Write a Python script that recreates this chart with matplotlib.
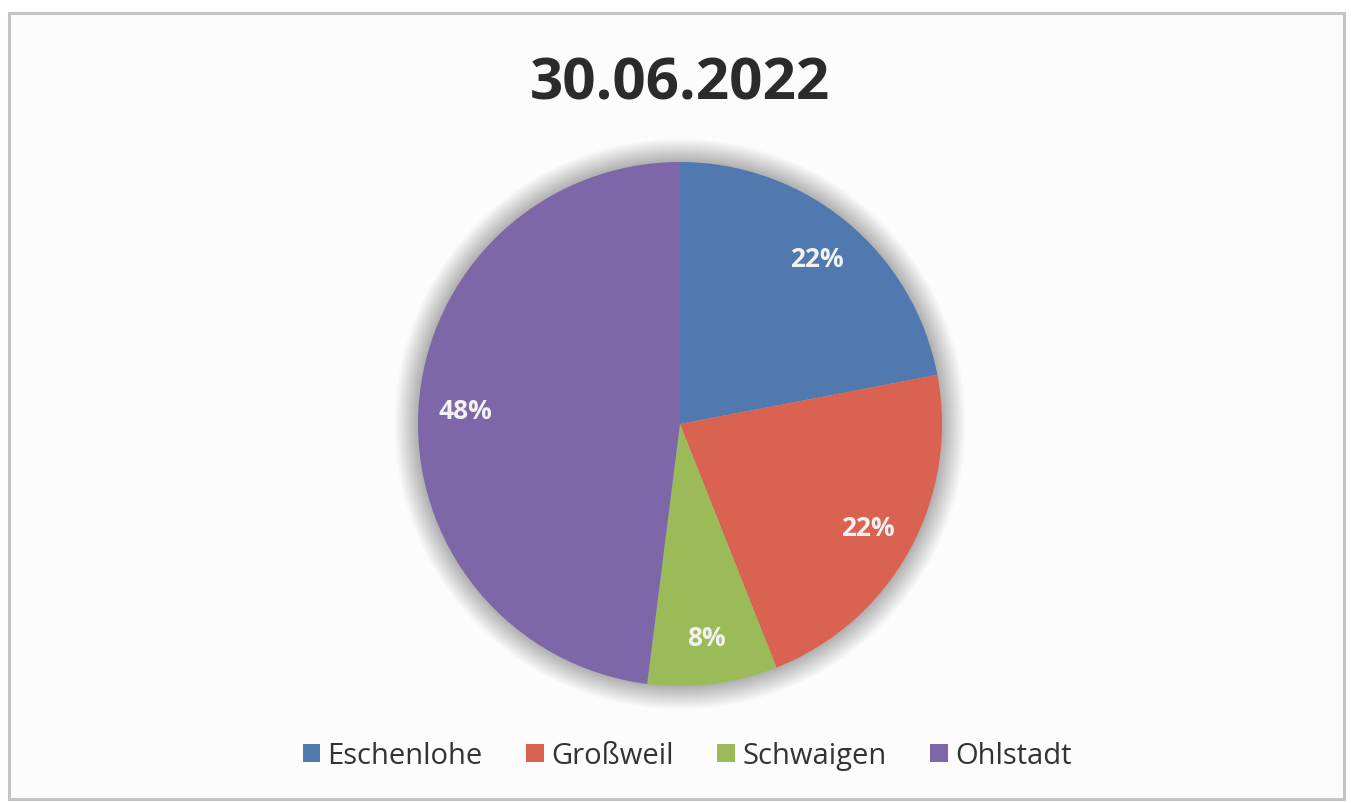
import matplotlib
matplotlib.use("Agg")
import matplotlib.pyplot as plt
from matplotlib.patches import Rectangle, Circle

title = "30.06.2022"
labels = ["Eschenlohe", "Großweil", "Schwaigen", "Ohlstadt"]
values = [22, 22, 8, 48]
colors = ["#5079B0", "#DA6250", "#9BBB59", "#7D67A8"]

plt.rcParams["hatch.color"] = "#F0F0F0"
plt.rcParams["hatch.linewidth"] = 0.8

W, H = 1351, 804
fig = plt.figure(figsize=(W / 100, H / 100), dpi=100)
fig.patch.set_facecolor("white")

# frame / chart area
bg = fig.add_axes([0, 0, 1, 1])
bg.set_xlim(0, W)
bg.set_ylim(H, 0)
bg.axis("off")
bg.add_patch(Rectangle((9, 14), 1335, 786, facecolor="#FCFCFC", edgecolor="none",
                       hatch="\\\\\\", zorder=0))
bg.add_patch(Rectangle((9, 14), 1335, 786, facecolor="none", edgecolor="#C4C4C4",
                       lw=2.2, zorder=1))

# pie
cx, cy, r = 680, 425, 262
ext = 1.25
size = r * ext
ax = fig.add_axes([(cx - size) / W, (H - cy - size) / H, 2 * size / W, 2 * size / H])
ax.set_xlim(-ext, ext)
ax.set_ylim(-ext, ext)
ax.set_aspect("equal")
ax.axis("off")

# soft shadow glow
n = 25
for i in range(n):
    rr = 1.0 + 0.0036 * (n - i)
    ax.add_patch(Circle((0, 0), rr, facecolor="#000000", alpha=0.012, lw=0, zorder=0))

wedges, texts, autotexts = ax.pie(
    values, colors=colors, startangle=90, counterclock=False, radius=1.0,
    autopct=lambda p: f"{p:.0f}%", pctdistance=0.82,
    wedgeprops=dict(lw=0),
    textprops=dict(color="#F2F2F2", fontsize=19, fontweight="bold", family="Open Sans"),
)
for w in wedges:
    w.set_zorder(2)
for t in autotexts:
    t.set_zorder(3)
ax.set_xlim(-ext, ext)
ax.set_ylim(-ext, ext)

# title
fig.text(cx / W, 1 - 84 / H, title, ha="center", va="center", fontsize=42,
         fontweight="bold", color="#2B2B2B", family="Open Sans")

# legend
handles = [Rectangle((0, 0), 1, 1, facecolor=c, lw=0) for c in colors]
leg = fig.legend(handles, labels, loc="center", bbox_to_anchor=(687 / W, 1 - 757 / H),
                 ncol=4, frameon=False, handlelength=0.6, handleheight=0.6,
                 handletextpad=0.25, columnspacing=1.5,
                 prop=dict(family="Open Sans", size=21))
for t in leg.get_texts():
    t.set_color("#333333")

fig.savefig("out.png", dpi=100)
